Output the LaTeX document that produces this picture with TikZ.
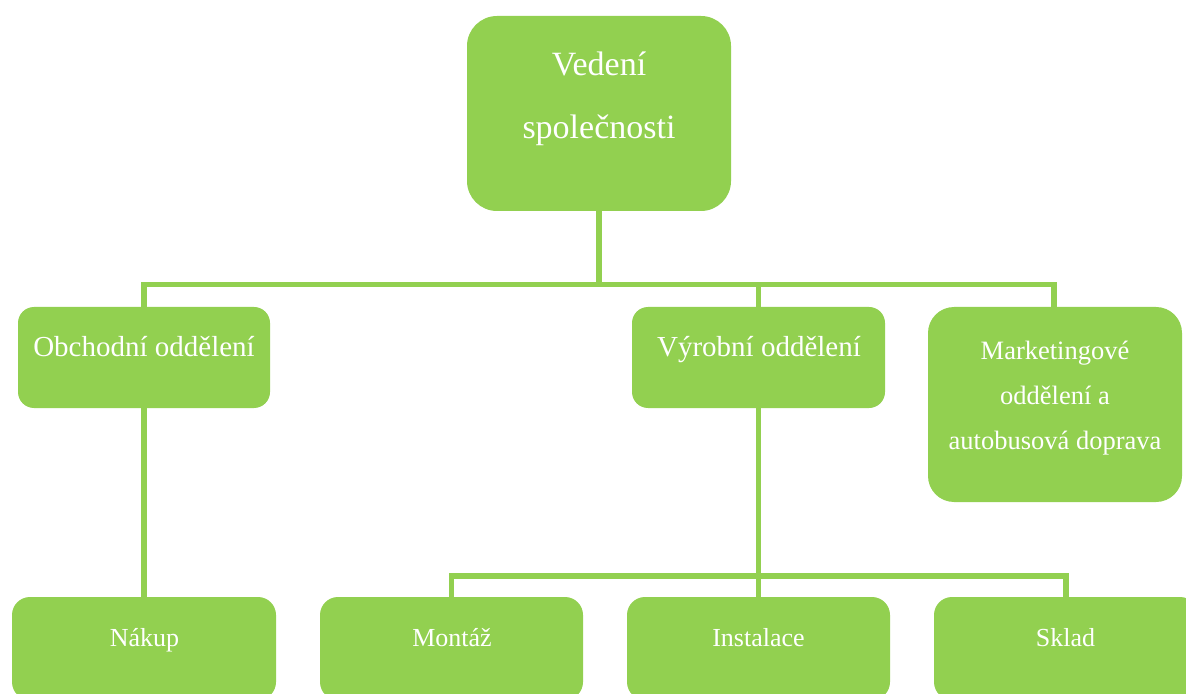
\documentclass[tikz,border=0pt]{standalone}
\usepackage{fontspec}
\setmainfont{Liberation Serif}
\definecolor{LeafGreen}{HTML}{92D050}
\usetikzlibrary{positioning}

\begin{document}
\begin{tikzpicture}[x=0.5pt, y=-0.5pt,
    orgbox/.style={fill=LeafGreen, inner sep=0pt},
    orgtext/.style={text=white, inner sep=0pt, align=center},
    link/.style={draw=LeafGreen, line width=2.85pt}]
  \useasboundingbox (0,0) rectangle (1186,694);
  \clip (0,0) rectangle (1186,694);
  % Top level
  \node[orgbox, rounded corners=15pt, minimum width=132pt, minimum height=97.5pt] (vedeni) at (599,113.5) {};
  % Departments
  \node[orgbox, rounded corners=8pt, minimum width=126pt, minimum height=50.5pt] (obchod) at (144,357.5) {};
  \node[orgbox, rounded corners=8pt, minimum width=126.5pt, minimum height=50.5pt] (vyroba) at (758.5,357.5) {};
  \node[orgbox, rounded corners=13pt, minimum width=127pt, minimum height=97.5pt] (market) at (1055,404.5) {};
  % Sections (cut off at the bottom)
  \node[orgbox, rounded corners=9pt, minimum width=132pt, minimum height=51.5pt] (nakup) at (144,648.5) {};
  \node[orgbox, rounded corners=9pt, minimum width=131.5pt, minimum height=51.5pt] (montaz) at (451.5,648.5) {};
  \node[orgbox, rounded corners=9pt, minimum width=131.5pt, minimum height=51.5pt] (instal) at (758.5,648.5) {};
  \node[orgbox, rounded corners=9pt, minimum width=132pt, minimum height=51.5pt] (sklad) at (1066,648.5) {};
  % Labels
  \node[orgtext, font=\fontsize{17}{31.65}\selectfont] (vedeni-t) at (599,98.8) {Vedení\\společnosti};
  \node[orgtext, anchor=base, font=\fontsize{14.5}{17}\selectfont] (obchod-t) at (144,357) {Obchodní oddělení};
  \node[orgtext, anchor=base, font=\fontsize{14.5}{17}\selectfont] (vyroba-t) at (759,357) {Výrobní oddělení};
  \node[orgtext, font=\fontsize{13.25}{22.5}\selectfont] (market-t) at (1055,398.1) {Marketingové\\oddělení a\\autobusová doprava};
  \node[orgtext, anchor=base, font=\fontsize{13}{15.6}\selectfont] (nakup-t) at (144.5,646.7) {Nákup};
  \node[orgtext, anchor=base, font=\fontsize{13}{15.6}\selectfont] (montaz-t) at (452,646.7) {Montáž};
  \node[orgtext, anchor=base, font=\fontsize{13}{15.6}\selectfont] (instal-t) at (758.5,646.7) {Instalace};
  \node[orgtext, anchor=base, font=\fontsize{13}{15.6}\selectfont] (sklad-t) at (1065.5,646.7) {Sklad};
  % Connectors
  \coordinate (bus1) at (599,284.5);
  \coordinate (bus2) at (758.5,576.2);
  \draw[link] (vedeni) -- (bus1);
  \draw[link] (obchod.north) |- (bus1) -| ([xshift=-0.5pt]market.north);
  \draw[link] (vyroba.north) -- (vyroba.north |- bus1);
  \draw[link] (obchod) -- (nakup);
  \draw[link] (vyroba) -- (instal);
  \draw[link] (montaz.north) |- (bus2) -| (sklad.north);
\end{tikzpicture}
\end{document}
